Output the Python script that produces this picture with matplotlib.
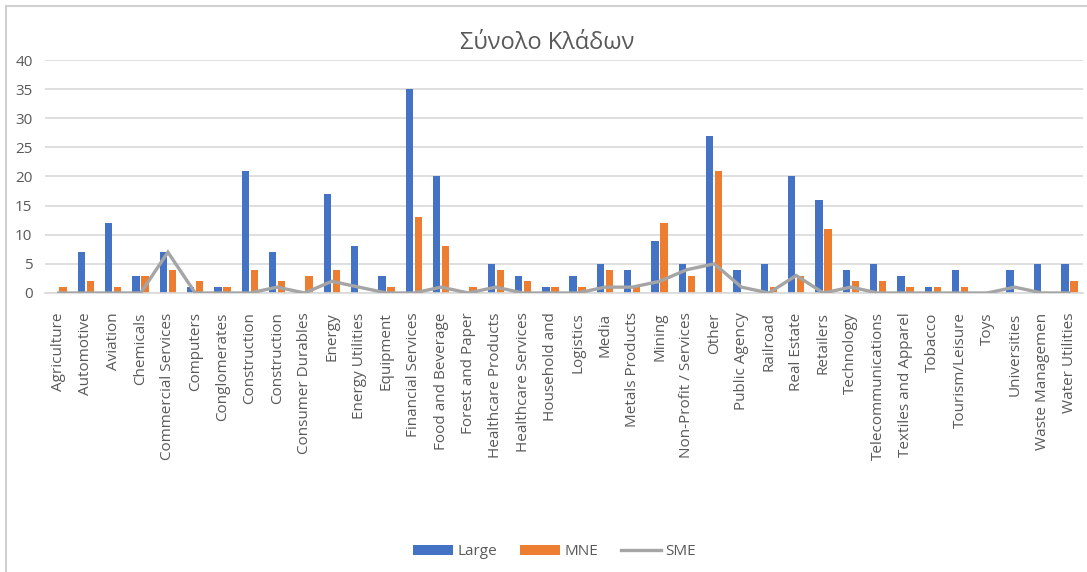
"""
sectores.py

Gráfico de barras agrupadas (Large / MNE) con una línea para SME,
por sector, al estilo de un gráfico de Excel.
"""

import matplotlib
matplotlib.use("Agg")
import matplotlib.pyplot as plt
from matplotlib.lines import Line2D
import numpy as np

# -----------------------------
# Datos
# -----------------------------
sectores = [
    "Agriculture", "Automotive", "Aviation", "Chemicals", "Commercial Services",
    "Computers", "Conglomerates", "Construction", "Construction", "Consumer Durables",
    "Energy", "Energy Utilities", "Equipment", "Financial Services", "Food and Beverage",
    "Forest and Paper", "Healthcare Products", "Healthcare Services", "Household and",
    "Logistics", "Media", "Metals Products", "Mining", "Non-Profit / Services", "Other",
    "Public Agency", "Railroad", "Real Estate", "Retailers", "Technology",
    "Telecommunications", "Textiles and Apparel", "Tobacco", "Tourism/Leisure", "Toys",
    "Universities", "Waste Managemen", "Water Utilities",
]
large = [0, 7, 12, 3, 7, 1, 1, 21, 7, 0, 17, 8, 3, 35, 20, 0, 5, 3, 1,
         3, 5, 4, 9, 5, 27, 4, 5, 20, 16, 4, 5, 3, 1, 4, 0, 4, 5, 5]
mne = [1, 2, 1, 3, 4, 2, 1, 4, 2, 3, 4, 0, 1, 13, 8, 1, 4, 2, 1,
       1, 4, 1, 12, 3, 21, 0, 1, 3, 11, 2, 2, 1, 1, 1, 0, 0, 0, 2]
sme = [0, 0, 0, 0, 7, 0, 0, 0, 1, 0, 2, 1, 0, 0, 1, 0, 1, 0, 0,
       0, 1, 1, 2, 4, 5, 1, 0, 3, 0, 1, 0, 0, 0, 0, 0, 1, 0, 0]
yticks = [0, 5, 10, 15, 20, 25, 30, 35, 40]

# Colores tipo Office
AZUL = "#4472C4"
NARANJA = "#ED7D31"
GRIS = "#A5A5A5"
TEXTO = "#595959"
REJILLA = "#D9D9D9"

plt.rcParams["font.family"] = ["Open Sans", "DejaVu Sans"]

fig = plt.figure(figsize=(10.87, 5.72), dpi=100)
ax = fig.add_axes([0.0414, 0.4878, 0.9549, 0.4073])

x = np.arange(len(sectores))
ancho = 0.27
b_large = ax.bar(x - 0.165, large, ancho, color=AZUL, label="Large", zorder=2)
b_mne = ax.bar(x + 0.165, mne, ancho, color=NARANJA, label="MNE", zorder=2)
l_sme, = ax.plot(x, sme, color=GRIS, lw=2.4, label="SME", zorder=3,
                 solid_joinstyle="miter")

ax.set_xlim(-0.5, len(sectores) - 0.5)
ax.set_ylim(0, 40)
ax.set_yticks(yticks)
ax.set_xticks(x)
ax.set_xticklabels(sectores, rotation=90, va="top", ha="center")
ax.tick_params(axis="x", length=0, pad=14, labelsize=11, labelcolor=TEXTO)
ax.tick_params(axis="y", length=0, pad=9, labelsize=11, labelcolor=TEXTO)

ax.grid(axis="y", color=REJILLA, lw=1.2, zorder=0)
for lado in ["top", "right", "left"]:
    ax.spines[lado].set_visible(False)
ax.spines["bottom"].set_color(REJILLA)
ax.spines["bottom"].set_linewidth(1.2)

fig.text(0.503, 0.925, "Σύνολο Κλάδων", ha="center", va="center",
         fontsize=17, color=TEXTO)

fig.legend(handles=[b_large, b_mne, l_sme], labels=["Large", "MNE", "SME"],
           loc="center", bbox_to_anchor=(0.51, 0.035), ncol=3, frameon=False,
           fontsize=11, labelcolor=TEXTO, handlelength=2.6, handleheight=0.65,
           columnspacing=1.5, handletextpad=0.3)

# Marco del área del gráfico (borde superior e izquierdo)
fig.add_artist(Line2D([6 / 1087, 1], [1 - 6 / 572, 1 - 6 / 572],
                      transform=fig.transFigure, color="#D0D0D0", lw=1.5))
fig.add_artist(Line2D([6 / 1087, 6 / 1087], [0, 1 - 6 / 572],
                      transform=fig.transFigure, color="#D0D0D0", lw=1.5))

fig.savefig("out.png", dpi=100, facecolor="white")
